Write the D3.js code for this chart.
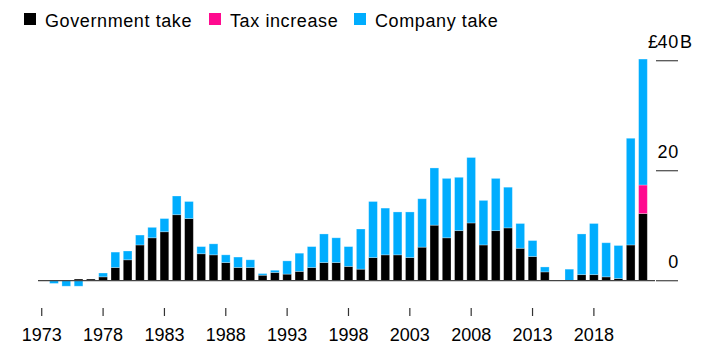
<!DOCTYPE html>
<html>
<head>
<meta charset="utf-8">
<script src="https://cdn.jsdelivr.net/npm/d3@7"></script>
<style>
  html, body { margin: 0; padding: 0; background: #fff; }
  svg { display: block; font-family: "Liberation Sans", Arial, Helvetica, sans-serif; }
</style>
</head>
<body>
<svg id="chart" width="708" height="351"></svg>
<script>
const years = d3.range(1973, 2023);
// £ billions
const government = [0, 0, 0, 0.3, 0.3, 0.7, 2.4, 3.8, 6.5, 7.8,
  8.9, 12.0, 11.3, 4.9, 4.7, 3.3, 2.4, 2.4, 1.0, 1.5,
  1.2, 1.7, 2.4, 3.3, 3.3, 2.6, 2.1, 4.2, 4.7, 4.7,
  4.2, 6.1, 10.1, 7.8, 9.1, 10.5, 6.5, 9.1, 9.6, 5.9,
  4.4, 1.6, 0, 0, 1.1, 1.1, 0.7, 0.4, 6.5, 12.2];
const taxIncrease = [0, 0, 0, 0, 0, 0, 0, 0, 0, 0,
  0, 0, 0, 0, 0, 0, 0, 0, 0, 0,
  0, 0, 0, 0, 0, 0, 0, 0, 0, 0,
  0, 0, 0, 0, 0, 0, 0, 0, 0, 0,
  0, 0, 0, 0, 0, 0, 0, 0, 0, 5.2];
const company = [0, -0.5, -1.0, -1.0, 0, 0.7, 2.8, 1.6, 1.8, 1.9,
  2.4, 3.4, 3.1, 1.3, 2.0, 1.4, 1.9, 1.4, 0.3, 0.4,
  2.4, 3.3, 3.8, 5.2, 4.5, 3.6, 7.3, 10.2, 8.5, 7.8,
  8.3, 8.8, 10.4, 10.8, 9.7, 11.9, 8.1, 9.5, 7.4, 4.5,
  2.9, 0.9, 0, 2.1, 7.4, 9.3, 6.2, 6.0, 19.4, 22.9];
const xTickYears = [1973, 1978, 1983, 1988, 1993, 1998, 2003, 2008, 2013, 2018];
const yTicks = [0, 20, 40];
const seriesNames = ["Government take", "Tax increase", "Company take"];

const colors = { "Government take": "#000000", "Tax increase": "#ff0a8f", "Company take": "#00adfe" };

const svg = d3.select("#chart");

const rows = years.map((y, i) => ({
  year: y,
  "Government take": government[i],
  "Tax increase": taxIncrease[i],
  "Company take": company[i]
}));

const x = d3.scaleBand().domain(years).range([35.6, 649.1]).paddingInner(0.29).paddingOuter(0.145);
const yS = d3.scaleLinear().domain([0, 40]).range([280.7, 60.7]);

const stack = d3.stack().keys(seriesNames).offset(d3.stackOffsetDiverging);
const stacked = stack(rows);

// bars
const g = svg.append("g");
g.selectAll("g.series").data(stacked).join("g")
  .attr("class", "series")
  .attr("fill", d => colors[d.key])
  .selectAll("rect").data(d => d.filter(p => p[1] - p[0] !== 0)).join("rect")
  .attr("x", d => x(d.data.year))
  .attr("width", x.bandwidth())
  .attr("y", d => yS(Math.max(d[0], d[1])))
  .attr("height", d => Math.abs(yS(d[0]) - yS(d[1])))
  .attr("stroke", "rgba(255,255,255,0.35)")
  .attr("stroke-width", 0.8);

// baseline
svg.append("line")
  .attr("x1", 38).attr("x2", 655)
  .attr("y1", yS(0)).attr("y2", yS(0))
  .attr("stroke", "#444").attr("stroke-width", 1.2);

// right axis
const ra = svg.append("g");
ra.selectAll("line").data(yTicks).join("line")
  .attr("x1", 656).attr("x2", 678)
  .attr("y1", d => yS(d)).attr("y2", d => yS(d))
  .attr("stroke", "#555").attr("stroke-width", 1.3);
ra.selectAll("text.num").data(yTicks).join("text")
  .attr("class", "num")
  .attr("x", 679).attr("y", d => yS(d) - 12.5)
  .attr("text-anchor", "end")
  .attr("font-size", 18)
  .attr("letter-spacing", 0.8)
  .attr("fill", "#000")
  .text(d => d);
const topTick = yTicks[yTicks.length - 1];
ra.append("text").attr("x", 658).attr("y", yS(topTick) - 12.5)
  .attr("text-anchor", "end").attr("font-size", 18).text("£");
ra.append("text").attr("x", 680).attr("y", yS(topTick) - 12.5)
  .attr("text-anchor", "start").attr("font-size", 18).text("B");

// x axis
const xa = svg.append("g");
xa.selectAll("line").data(xTickYears).join("line")
  .attr("x1", d => x(d) + x.bandwidth() / 2).attr("x2", d => x(d) + x.bandwidth() / 2)
  .attr("y1", 308).attr("y2", 316)
  .attr("stroke", "#333").attr("stroke-width", 1.2);
xa.selectAll("text").data(xTickYears).join("text")
  .attr("x", d => x(d) + x.bandwidth() / 2)
  .attr("y", 341)
  .attr("text-anchor", "middle")
  .attr("font-size", 18)
  .attr("fill", "#000")
  .text(d => d);

// legend
const legendX = [24, 209, 354];
const lg = svg.append("g");
const items = lg.selectAll("g").data(seriesNames).join("g")
  .attr("transform", (d, i) => `translate(${legendX[i]},0)`);
items.append("rect").attr("x", 0).attr("y", 13).attr("width", 12).attr("height", 12)
  .attr("fill", d => colors[d]);
items.append("text").attr("x", 21).attr("y", 26.5)
  .attr("font-size", 18).attr("letter-spacing", 0.6)
  .attr("fill", "#000")
  .text(d => d);
</script>
</body>
</html>
